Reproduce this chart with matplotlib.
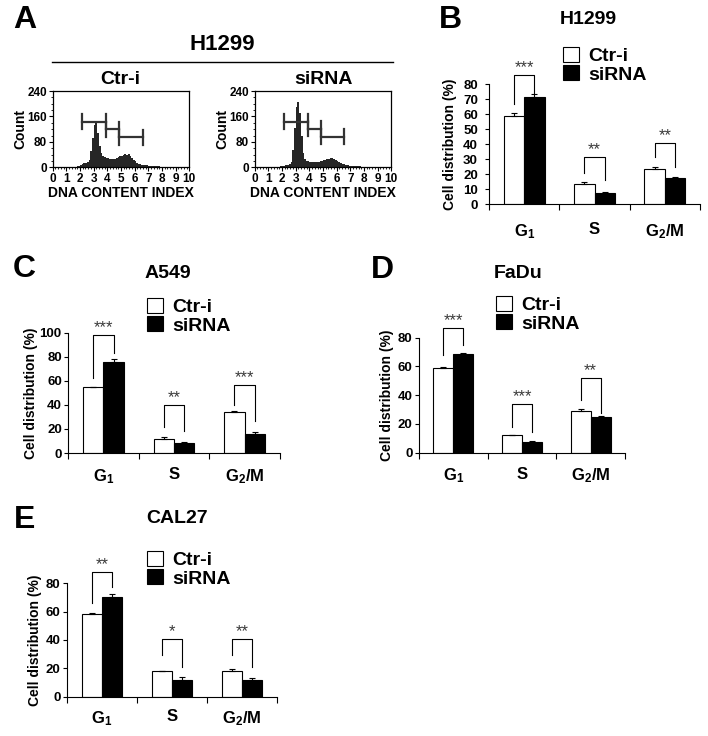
import numpy as np
import matplotlib.pyplot as plt
from matplotlib.patches import Patch
from matplotlib.lines import Line2D
from matplotlib.ticker import MultipleLocator

plt.rcParams['font.family'] = ['Liberation Sans', 'DejaVu Sans']
plt.rcParams['font.weight'] = 'bold'
plt.rcParams['axes.labelweight'] = 'bold'
plt.rcParams['mathtext.fontset'] = 'custom'
plt.rcParams['mathtext.rm'] = 'Liberation Sans:bold'
plt.rcParams['mathtext.it'] = 'Liberation Sans:bold'
plt.rcParams['mathtext.bf'] = 'Liberation Sans:bold'

W, H = 708, 736

# ---- panel A: DNA content histograms (H1299) ----
bin_start = 1.75
bin_width = 0.125
ctr_counts = [3, 5, 8, 10, 12, 13, 16, 24, 52, 92, 133, 140, 108, 66, 44, 36, 33, 30, 29, 27,
              26, 25, 27, 28, 31, 34, 37, 40, 42, 40, 43, 37, 30, 24, 19, 14, 11, 9, 8, 7,
              6, 6, 5, 5, 4, 4, 4, 3, 3, 2]
sirna_counts = [2, 3, 4, 5, 6, 7, 9, 18, 55, 125, 190, 205, 170, 100, 45, 27, 21, 19, 17, 16,
                16, 17, 18, 18, 19, 20, 22, 24, 25, 27, 29, 28, 27, 24, 20, 16, 13, 11, 9, 7,
                6, 5, 5, 4, 4, 3, 3, 3, 2, 1]
ctr_gate_x = [(2.12, 3.88), (3.88, 4.85), (4.85, 6.59)]
ctr_gate_y = [143, 119, 94]
sirna_gate_x = [(2.12, 3.88), (3.88, 4.85), (4.85, 6.55)]
sirna_gate_y = [143, 122, 96]

# ---- bar panels ----
phases = ['G$_1$', 'S', 'G$_2$/M']
legend_labels = ['Ctr-i', 'siRNA']

b_ctr = [59.1, 13.8, 23.6]
b_ctr_err = [1.6, 1.1, 1.1]
b_sirna = [71.8, 7.8, 17.3]
b_sirna_err = [1.5, 0.6, 0.9]
b_stars = ['***', '**', '**']
b_top = [86.2, 31.7, 40.7]
b_left = [67.0, 20.7, 31.7]
b_right = [74.5, 16.2, 25.0]

c_ctr = [54.7, 11.9, 33.7]
c_ctr_err = [0.3, 1.4, 0.8]
c_sirna = [76.0, 8.3, 16.0]
c_sirna_err = [1.9, 0.8, 1.4]
c_stars = ['***', '**', '***']
c_top = [98.0, 40.0, 56.6]
c_left = [62.0, 22.0, 40.0]
c_right = [83.4, 18.0, 26.2]

d_ctr = [58.7, 12.3, 29.2]
d_ctr_err = [1.1, 0.3, 0.9]
d_sirna = [68.6, 7.7, 25.0]
d_sirna_err = [0.7, 0.6, 0.5]
d_stars = ['***', '***', '**']
d_top = [87.0, 33.6, 51.7]
d_left = [68.0, 18.0, 36.6]
d_right = [74.9, 14.6, 27.4]

e_ctr = [58.1, 18.1, 18.4]
e_ctr_err = [1.2, 0.3, 1.1]
e_sirna = [70.1, 11.8, 11.8]
e_sirna_err = [2.4, 2.3, 1.1]
e_stars = ['**', '*', '**']
e_top = [87.8, 40.7, 40.7]
e_left = [65.9, 29.4, 29.4]
e_right = [77.2, 21.2, 21.2]

fig = plt.figure(figsize=(W / 100, H / 100), dpi=100)


def add_ax(l, t, r, b):
    return fig.add_axes([l / W, 1 - b / H, (r - l) / W, (b - t) / H])


def ftext(x, y, s, size, **kw):
    fig.text(x / W, 1 - y / H, s, fontsize=size, ha='center', va='center', fontweight='bold', **kw)


def hist_panel(rect, counts, gate_x, gate_y):
    ax = add_ax(*rect)
    edges = bin_start + bin_width * np.arange(len(counts) + 1)
    ax.stairs(counts, edges, fill=True, color='#262626', lw=0)
    for (x0, x1), y in zip(gate_x, gate_y):
        ax.plot([x0, x1], [y, y], color='#333333', lw=1.6)
        ax.plot([x0, x0], [y - 24, y + 24], color='#333333', lw=1.6)
        ax.plot([x1, x1], [y - 24, y + 24], color='#333333', lw=1.6)
    ax.set_xlim(0, 10)
    ax.set_ylim(0, 240)
    ax.set_xticks(range(11))
    ax.set_yticks([0, 80, 160, 240])
    ax.xaxis.set_minor_locator(MultipleLocator(0.2))
    ax.yaxis.set_minor_locator(MultipleLocator(20))
    ax.tick_params(which='major', length=3, width=0.8, labelsize=8.5, pad=1)
    ax.tick_params(which='minor', length=1.5, width=0.6)
    for lab in ax.get_xticklabels() + ax.get_yticklabels():
        lab.set_fontweight('bold')
    for s in ax.spines.values():
        s.set_linewidth(0.9)
    ax.set_xlabel('DNA CONTENT INDEX', fontsize=10, labelpad=1)
    ax.set_ylabel('Count', fontsize=10, labelpad=0)
    return ax


hist_panel((52.7, 91, 189.3, 167.3), ctr_counts, ctr_gate_x, ctr_gate_y)
hist_panel((254.7, 91, 391.3, 167.3), sirna_counts, sirna_gate_x, sirna_gate_y)
ftext(25, 20, 'A', 23)
ftext(222, 45, 'H1299', 16)
fig.add_artist(Line2D([52 / W, 393 / W], [1 - 62.3 / H] * 2, color='black', lw=1.0))
ftext(120, 79, 'Ctr-i', 14)
ftext(324, 79, 'siRNA', 14)


def bar_panel(rect, ymax, ystep, ctr, ctr_err, si, si_err, stars, top, left, right,
              letter, letter_xy, title, title_xy, leg_xy, ypad=1.5, xpad=9, ylpad=3):
    ax = add_ax(*rect)
    x = np.arange(len(phases))
    bw = 0.29
    ax.bar(x - bw / 2, ctr, bw, color='white', edgecolor='black', lw=0.8)
    ax.bar(x + bw / 2, si, bw, color='black', edgecolor='black', lw=0.8)
    ax.errorbar(x - bw / 2, ctr, yerr=[np.zeros(len(x)), ctr_err], fmt='none',
                ecolor='black', elinewidth=0.8, capsize=2.5, capthick=0.8)
    ax.errorbar(x + bw / 2, si, yerr=[np.zeros(len(x)), si_err], fmt='none',
                ecolor='black', elinewidth=0.8, capsize=2.5, capthick=0.8)
    for i in range(len(x)):
        xl, xr = i - bw / 2, i + bw / 2
        ax.plot([xl, xl, xr, xr], [left[i], top[i], top[i], right[i]],
                color='black', lw=0.8, clip_on=False)
        ax.annotate(stars[i], (i, top[i]), xytext=(0, 0), textcoords='offset points',
                    ha='center', va='bottom', fontsize=12, fontweight='normal',
                    color='#3a3a3a', annotation_clip=False)
    ax.set_xlim(-0.5, 2.5)
    ax.set_ylim(0, ymax)
    ax.set_yticks(np.arange(0, ymax + 1, ystep))
    ax.set_xticks([-0.5, 0.5, 1.5, 2.5])
    ax.set_xticklabels([])
    ax.set_xticks(x, minor=True)
    ax.set_xticklabels(phases, minor=True, fontsize=12, fontweight='bold')
    ax.tick_params(axis='x', which='minor', length=0, pad=xpad)
    ax.tick_params(axis='x', which='major', length=4, width=0.8)
    ax.tick_params(axis='y', length=3, width=0.8, labelsize=9.5, pad=ypad)
    for lab in ax.get_yticklabels():
        lab.set_fontweight('bold')
    ax.spines['top'].set_visible(False)
    ax.spines['right'].set_visible(False)
    ax.spines['left'].set_linewidth(0.8)
    ax.spines['bottom'].set_linewidth(0.8)
    ax.set_ylabel('Cell distribution (%)', fontsize=10, labelpad=ylpad)
    handles = [Patch(facecolor='white', edgecolor='black', lw=0.8),
               Patch(facecolor='black', edgecolor='black', lw=0.8)]
    ax.legend(handles, legend_labels, loc='upper left',
              bbox_to_anchor=(leg_xy[0] / W, 1 - leg_xy[1] / H), bbox_transform=fig.transFigure,
              frameon=False, borderpad=0, borderaxespad=0, handlelength=0.82, handleheight=0.82,
              handletextpad=0.5, labelspacing=0.0, prop={'size': 14, 'weight': 'bold'})
    ftext(letter_xy[0], letter_xy[1], letter, 23)
    ftext(title_xy[0], title_xy[1], title, 14)
    return ax


bar_panel((489, 84.3, 700, 204.3), 80, 10, b_ctr, b_ctr_err, b_sirna, b_sirna_err,
          b_stars, b_top, b_left, b_right, 'B', (450, 20.5), 'H1299', (588, 20), (563, 47),
          ypad=5, xpad=13, ylpad=4)
bar_panel((68, 332.7, 280, 453), 100, 20, c_ctr, c_ctr_err, c_sirna, c_sirna_err,
          c_stars, c_top, c_left, c_right, 'C', (24, 269), 'A549', (168, 273), (146.7, 298),
          xpad=10, ylpad=1.5)
bar_panel((419, 337.7, 625, 452.7), 80, 20, d_ctr, d_ctr_err, d_sirna, d_sirna_err,
          d_stars, d_top, d_left, d_right, 'D', (382.5, 270), 'FaDu', (518.5, 273), (496, 296),
          xpad=10)
bar_panel((67, 583.3, 277, 696.7), 80, 20, e_ctr, e_ctr_err, e_sirna, e_sirna_err,
          e_stars, e_top, e_left, e_right, 'E', (25, 519.5), 'CAL27', (177, 518.5), (146.7, 551))

fig.savefig('out.png', dpi=100)
